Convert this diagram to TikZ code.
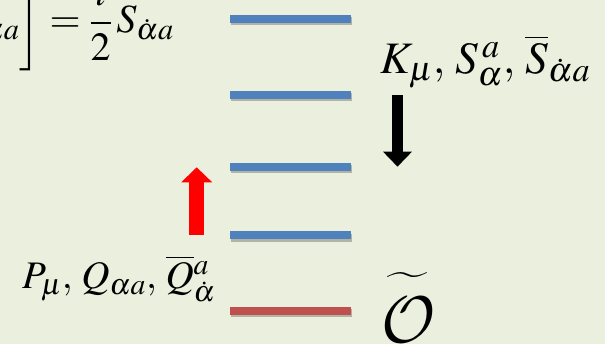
\documentclass[tikz,border=0pt]{standalone}
\usepackage{mathptmx}
\usetikzlibrary{arrows.meta,shadows}

\font\calfont=cmsy10 at 66pt
\renewcommand\defaultscriptratio{.76}

\definecolor{bgcol}{RGB}{235,239,222}
\definecolor{lvlblue}{RGB}{79,129,189}
\definecolor{lvlred}{RGB}{192,80,77}

\tikzset{
  energy/.style={drop shadow={shadow xshift=1.5pt, shadow yshift=-2.5pt, fill=black, opacity=0.25}},
  bigop/.style={inner sep=0pt, font=\fontsize{#1}{#1}\selectfont},
  bigarrow/.style={-{Triangle[width=#1, length=15pt]}}
}

\begin{document}
\begin{tikzpicture}[x=1pt, y=1pt]
  % page
  \fill[bgcol] (0,0) rectangle (605,344);
  \useasboundingbox (0,0) rectangle (605,344);
  \clip (0,0) rectangle (605,344);

  % commutator, cut off at the corner
  \node[bigop=40, anchor=base east] (comm) at (174,311)
    {$\displaystyle\bigg[D,\overline{S}_{\dot\alpha a}\bigg] = \frac{i}{2}\,S_{\dot\alpha a}$};

  % levels
  \foreach \y in {325,249,177,108.5} {
    \fill[lvlblue, energy] (229.5,\y-4) rectangle (350.5,\y+4);
  }
  \fill[lvlred, energy] (229.5,29) rectangle (350.5,37);

  % lowering and raising
  \draw[line width=11.6pt, bigarrow=28pt] (397.5,249) -- (397.5,177.3);
  \draw[red, line width=14.7pt, bigarrow=30pt] (196.7,109) -- (196.7,176.7);

  % generators
  \node[bigop=45, anchor=base west] (lower) at (380,270)
    {$K_\mu,\, S^{\,a}_{\alpha},\, \overline{S}_{\dot\alpha a}$};
  \node[bigop=39, anchor=base west] (raise) at (22,55)
    {$P_\mu,\, Q_{\alpha a},\, \overline{Q}{}^{a}_{\dot\alpha}$};
  \node[bigop=40, anchor=base west] (prim) at (381,1)
    {$\widetilde{\vrule height 58pt width 0pt\hbox{\calfont O}}$};
\end{tikzpicture}
\end{document}
